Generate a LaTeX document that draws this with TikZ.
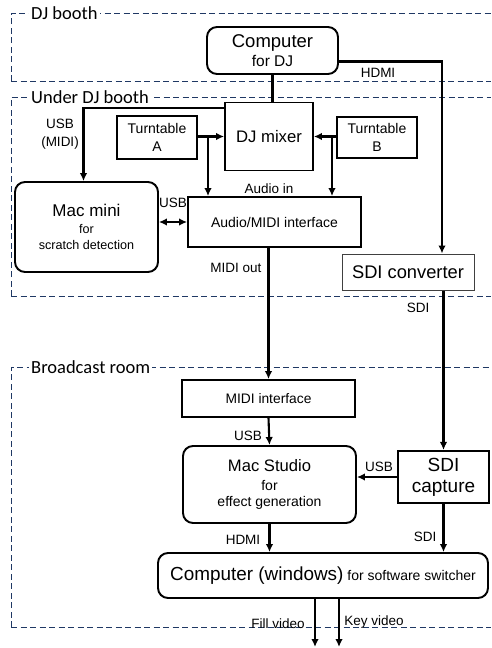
\documentclass[tikz,border=0pt]{standalone}
\usepackage{fontspec}
\setmainfont{Liberation Sans}
\newfontfamily\regionfont{Carlito}
\usetikzlibrary{arrows.meta,positioning,calc}
\definecolor{regionblue}{RGB}{31,56,100}
\newcommand{\fsz}[2]{\fontsize{#1}{#2}\selectfont}

\begin{document}
\begin{tikzpicture}[x=1pt,y=-1pt,>={Latex[length=8pt,width=7.5pt]},
  box/.style={draw,line width=1.9pt,inner sep=0pt,align=center},
  rbox/.style={box,rounded corners=10pt},
  link/.style={line width=2.1pt},
  lab/.style={font=\fsz{13.5}{16},inner sep=0pt,align=center},
  region/.style={draw=regionblue,line width=1pt,dash pattern=on 6pt off 3.5pt},
  regionlab/.style={font=\regionfont\fsz{18.5}{20},fill=white,inner sep=2pt,anchor=west}]
\useasboundingbox (0,0) rectangle (491,648);
%
% regions
\draw[region] (11,81) -- (11,13) -- (491,13);
\draw[region] (11,81) -- (491,81);
\node[regionlab] (rdj) at (29,13) {DJ booth};
\draw[region] (11,296) -- (11,97) -- (491,97);
\draw[region] (11,296) -- (491,296);
\node[regionlab] (rund) at (29,97) {Under DJ booth};
\draw[region] (11,627) -- (11,367) -- (491,367);
\draw[region] (11,627) -- (491,627);
\node[regionlab] (rbc) at (29,367) {Broadcast room};
%
% devices
\node[rbox,minimum width=131pt,minimum height=47pt,font=\fsz{15.5}{19}] (comp) at (272.5,50.5)
  {{\fsz{18.5}{19}Computer}\\for DJ};
\node[box,minimum width=88pt,minimum height=68pt,font=\fsz{16.7}{19}] (mixer) at (269,136.5) {DJ mixer};
\node[box,minimum width=80pt,minimum height=43pt,font=\fsz{14}{18}] (tta) at (157,137.5) {Turntable\\A};
\node[box,minimum width=80pt,minimum height=41pt,font=\fsz{14}{18}] (ttb) at (377,137.5) {Turntable\\B};
\node[box,minimum width=173pt,minimum height=50pt,font=\fsz{14}{17}] (iface) at (274.5,222) {Audio/MIDI interface};
\node[rbox,minimum width=143pt,minimum height=90pt,font=\fsz{12.6}{15.5}] (macmini) at (86.5,227)
  {{\fsz{17}{15.5}Mac mini}\\[1.5pt]for\\scratch detection};
\node[box,draw=black!75,line width=1pt,minimum width=132pt,minimum height=36pt,font=\fsz{18.3}{20}] (sdiconv) at (408,272)
  {SDI converter};
\node[box,minimum width=173pt,minimum height=37pt,font=\fsz{13.8}{16}] (midi) at (268.5,398.5) {MIDI interface};
\node[rbox,minimum width=173pt,minimum height=77pt,font=\fsz{14}{16.5}] (studio) at (269.5,484.5)
  {{\fsz{16.6}{16.5}Mac Studio}\\[2.5pt]for\\effect generation};
\node[box,line width=2.1pt,minimum width=91pt,minimum height=52pt,font=\fsz{19}{21}] (capture) at (443.5,477)
  {SDI\\capture};
\node[rbox,minimum width=330pt,minimum height=45pt,font=\fsz{14}{17}] (win) at (323,575.5)
  {{\fsz{18.9}{17}Computer (windows)} for software switcher};
%
% connections
\draw[link,->] ([yshift=-11pt]comp.east) -| ([xshift=34pt]sdiconv.north);
\node[lab] (lhdmi) at (378,73) {HDMI};
\draw[link] (comp.south) -- (comp.south |- mixer.north);
\draw[link,->] ([yshift=28.5pt]mixer.west) -| ([xshift=-3pt]macmini.north);
\node[lab] (lusbmidi) at (60,134) {USB\\[2pt](MIDI)};
\draw[link,->] (tta.east |- mixer.west) -- (mixer.west);
\draw[link,->] (ttb.west |- mixer.east) -- (mixer.east);
\coordinate (ja) at (208,138);
\coordinate (jb) at (332,138);
\draw[link,->] (ja) -- (ja |- iface.north);
\draw[link,->] (jb) -- (jb |- iface.north);
\node[lab] (laudio) at (269,189) {Audio in};
\draw[link,<->] (macmini.east |- iface.west) -- (iface.west);
\node[lab] (lusb1) at (173,203) {USB};
\draw[link,->] (iface.south -| midi.north) -- (midi.north);
\node[lab] (lmidiout) at (236,268) {MIDI out};
\draw[link,->] (capture.north |- sdiconv.south) -- (capture.north);
\node[lab] (lsdi1) at (418,308) {SDI};
\draw[link,->] (midi.south) -- (studio.north);
\node[lab] (lusb2) at (248,436) {USB};
\draw[link,->] (capture.west) -- (studio.east |- capture.west);
\node[lab] (lusb3) at (379,467) {USB};
\draw[link,->] (studio.south) -- (studio.south |- win.north);
\node[lab] (lhdmi2) at (243,540) {HDMI};
\draw[link,->] (capture.south) -- (capture.south |- win.north);
\node[lab] (lsdi2) at (425,537) {SDI};
\coordinate (fill) at (315,647);
\coordinate (key) at (339,647);
\draw[link,->] (fill |- win.south) -- (fill);
\draw[link,->] (key |- win.south) -- (key);
\node[lab] (lfill) at (278,624) {Fill video};
\node[lab] (lkey) at (374,622) {Key video};
\end{tikzpicture}
\end{document}
